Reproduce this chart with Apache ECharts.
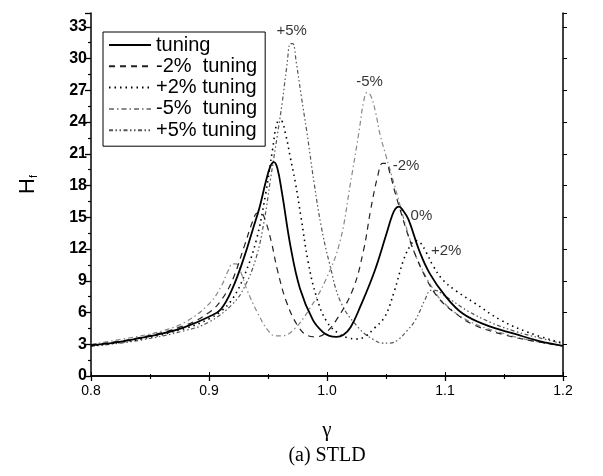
<!DOCTYPE html>
<html>
<head>
<meta charset="utf-8">
<script src="https://cdn.jsdelivr.net/npm/echarts@6/dist/echarts.min.js"></script>
<style>
html,body{margin:0;padding:0;background:#fff;}
#chart{width:603px;height:476px;}
</style>
</head>
<body>
<div id="chart"></div>
<script>
// ---- data ----
const seriesNames = ['tuning', '-2%  tuning', '+2% tuning', '-5%  tuning', '+5% tuning'];

const gammaTuning = [0.80,0.82,0.84,0.86,0.88,0.90,0.91,0.92,0.93,0.937,0.943,0.948,0.952,0.955,0.958,0.962,0.969,0.977,0.988,0.996,1.002,1.008,1.014,1.020,1.028,1.040,1.050,1.055,1.058,1.061,1.064,1.069,1.078,1.087,1.100,1.115,1.135,1.160,1.180,1.200];
const hTuning     = [2.9,3.15,3.55,4.0,4.65,5.6,6.3,8.3,11.3,13.8,16.0,18.3,19.8,20.2,19.6,17.2,12.3,8.3,5.3,4.2,3.8,3.7,3.9,4.6,6.5,9.8,13.3,15.1,15.8,16.0,15.7,14.8,11.9,9.7,7.6,5.9,4.8,3.95,3.3,2.85];

const gammaM2 = [0.80,0.84,0.88,0.90,0.91,0.92,0.93,0.937,0.941,0.944,0.948,0.953,0.958,0.966,0.976,0.984,0.990,0.998,1.008,1.022,1.031,1.037,1.043,1.047,1.050,1.053,1.057,1.062,1.069,1.075,1.085,1.095,1.108,1.125,1.150,1.175,1.200];
const hM2     = [2.95,3.6,4.8,6.0,7.1,9.1,12.3,14.6,15.4,15.4,14.6,12.6,10.0,6.9,4.6,3.8,3.7,4.0,5.3,8.2,11.9,15.7,18.9,20.1,20.1,19.3,17.6,15.7,13.2,11.4,9.0,7.3,6.0,4.8,3.9,3.3,2.85];

const gammaP2 = [0.80,0.84,0.88,0.90,0.91,0.92,0.93,0.94,0.948,0.954,0.958,0.961,0.965,0.969,0.973,0.978,0.984,0.991,1.000,1.010,1.018,1.025,1.032,1.040,1.049,1.057,1.065,1.071,1.075,1.079,1.084,1.090,1.098,1.110,1.125,1.147,1.171,1.200];
const hP2     = [2.85,3.45,4.5,5.4,6.1,7.3,9.5,12.8,17.2,21.5,24.0,24.1,22.8,20.6,18.4,15.0,10.8,7.5,5.1,4.0,3.6,3.5,3.7,4.5,5.6,8.0,11.0,12.4,12.8,12.6,11.7,10.4,9.1,8.0,6.9,5.3,4.1,3.1];

const gammaM5 = [0.80,0.84,0.86,0.88,0.90,0.91,0.916,0.920,0.923,0.927,0.932,0.941,0.950,0.956,0.962,0.972,0.985,0.999,1.011,1.020,1.027,1.031,1.034,1.037,1.041,1.045,1.050,1.057,1.066,1.073,1.080,1.090,1.100,1.120,1.150,1.175,1.200];
const hM5     = [3.0,3.75,4.25,5.1,6.8,8.4,9.9,10.6,10.6,9.8,8.2,6.0,4.3,3.8,3.8,4.4,6.3,9.1,12.7,18.3,23.0,25.9,26.8,26.5,25.0,22.8,20.8,18.1,14.5,12.0,10.2,8.2,6.8,5.2,4.0,3.3,2.8];

const gammaP5 = [0.80,0.84,0.88,0.90,0.92,0.93,0.94,0.947,0.952,0.958,0.962,0.966,0.969,0.971,0.974,0.978,0.983,0.989,0.995,1.002,1.012,1.028,1.040,1.047,1.053,1.060,1.068,1.075,1.083,1.088,1.092,1.097,1.105,1.120,1.140,1.160,1.180,1.200];
const hP5     = [2.8,3.35,4.3,5.1,6.8,8.4,11.2,14.8,18.5,22.8,25.8,29.3,31.4,31.4,29.6,26.6,23.0,18.3,14.2,10.7,6.9,4.4,3.4,3.1,3.1,3.4,4.3,5.3,7.2,8.1,8.1,7.8,7.2,6.1,5.0,4.2,3.6,3.05];

const annoText  = ['+5%', '-5%', '-2%', '0%', '+2%'];
const annoGamma = [0.970, 1.036, 1.067, 1.080, 1.101];
const annoH     = [32.6, 27.8, 19.9, 15.1, 11.85];

const xTickLabels = ['0.8', '0.9', '1.0', '1.1', '1.2'];

// ---- build ----
function zip(xs, ys) { return xs.map((x, i) => [x, ys[i]]); }
const SANS = '"Liberation Sans", Arial, Helvetica, sans-serif';
const SERIF = '"Liberation Serif", "Times New Roman", serif';

const styles = [
  { color: '#000000', width: 1.8, type: 'solid' },
  { color: '#222222', width: 1.2, type: [6, 5] },
  { color: '#000000', width: 1.6, type: [1.5, 4] },
  { color: '#888888', width: 1.2, type: [5, 3, 1.5, 3] },
  { color: '#555555', width: 1.2, type: [4, 2.5, 1.5, 2.5, 1.5, 2.5] }
];
const dataSets = [zip(gammaTuning, hTuning), zip(gammaM2, hM2), zip(gammaP2, hP2), zip(gammaM5, hM5), zip(gammaP5, hP5)];

const series = seriesNames.map((n, i) => ({
  name: n,
  type: 'line',
  data: dataSets[i],
  showSymbol: false,
  symbol: 'none',
  smooth: 0.4,
  color: styles[i].color,
  lineStyle: { color: styles[i].color, width: styles[i].width, type: styles[i].type },
  z: 5 - i
}));

series.push({
  name: 'labels',
  type: 'scatter',
  symbolSize: 0,
  silent: true,
  z: 10,
  data: annoText.map((t, i) => [annoGamma[i], annoH[i], t]),
  label: {
    show: true, position: 'inside',
    formatter: p => p.data[2],
    color: '#000', fontFamily: SANS, fontSize: 15
  }
});

const chart = echarts.init(document.getElementById('chart'), null, { renderer: 'canvas' });
chart.setOption({
  animation: false,
  backgroundColor: '#fff',
  grid: { left: 91, right: 40, top: 13, bottom: 100, containLabel: false },
  legend: {
    data: seriesNames,
    orient: 'vertical',
    left: 103, top: 32,
    padding: [3, 8, 6, 5],
    itemGap: 1.3,
    itemWidth: 42, itemHeight: 14,
    borderColor: '#000', borderWidth: 1,
    backgroundColor: '#fff',
    itemStyle: { opacity: 0, borderWidth: 0 },
    textStyle: { fontFamily: SANS, fontSize: 20, color: '#000', lineHeight: 20 },
    selectedMode: false
  },
  xAxis: [{
    type: 'value', min: 0.8, max: 1.2, interval: 0.1,
    name: 'γ', nameLocation: 'middle', nameGap: 44,
    nameTextStyle: { fontFamily: SERIF, fontSize: 21, color: '#000' },
    axisLine: { lineStyle: { color: '#000', width: 1.5 } },
    axisTick: { length: 5, lineStyle: { color: '#000', width: 1.3 } },
    minorTick: { show: true, splitNumber: 2, length: 3, lineStyle: { color: '#000', width: 1.2 } },
    axisLabel: { fontFamily: SANS, fontSize: 14, color: '#000', margin: 8,
      formatter: v => xTickLabels[Math.round((v - 0.8) * 10)] },
    splitLine: { show: false }
  }, {
    type: 'value', min: 0.8, max: 1.2, interval: 0.1, position: 'top',
    axisLine: { lineStyle: { color: '#000', width: 1.5 } },
    axisTick: { length: 4, lineStyle: { color: '#000' } },
    minorTick: { show: true, splitNumber: 2, length: 2, lineStyle: { color: '#000' } },
    axisLabel: { show: false }, splitLine: { show: false }
  }],
  yAxis: [{
    type: 'value', min: 0, max: 34.3, interval: 3,
    name: 'H{s|f}', nameLocation: 'middle', nameGap: 52, nameRotate: 90,
    nameTextStyle: { fontFamily: SANS, fontSize: 22, color: '#000', padding: [0, 0, 0, 20],
      rich: { s: { fontFamily: SANS, fontSize: 11, color: '#000', verticalAlign: 'bottom', padding: [8, 0, 0, 0] } } },
    axisLine: { lineStyle: { color: '#000', width: 1.5 } },
    axisTick: { length: 6, lineStyle: { color: '#000', width: 1.3 } },
    minorTick: { show: true, splitNumber: 2, length: 3, lineStyle: { color: '#000', width: 1.2 } },
    axisLabel: { fontFamily: SANS, fontSize: 16, fontWeight: 'bold', color: '#000', margin: 4,
      showMaxLabel: false },
    splitLine: { show: false }
  }, {
    type: 'value', min: 0, max: 34.3, interval: 3, position: 'right',
    axisLine: { lineStyle: { color: '#000', width: 1.5 } },
    axisTick: { length: 4, lineStyle: { color: '#000' } },
    minorTick: { show: false },
    axisLabel: { show: false }, splitLine: { show: false }
  }],
  graphic: [{
    type: 'text', x: 327, y: 456,
    style: { text: '(a) STLD', font: '20px ' + SERIF, fill: '#000', textAlign: 'center', textVerticalAlign: 'middle' }
  }],
  series: series
});
</script>
</body>
</html>
